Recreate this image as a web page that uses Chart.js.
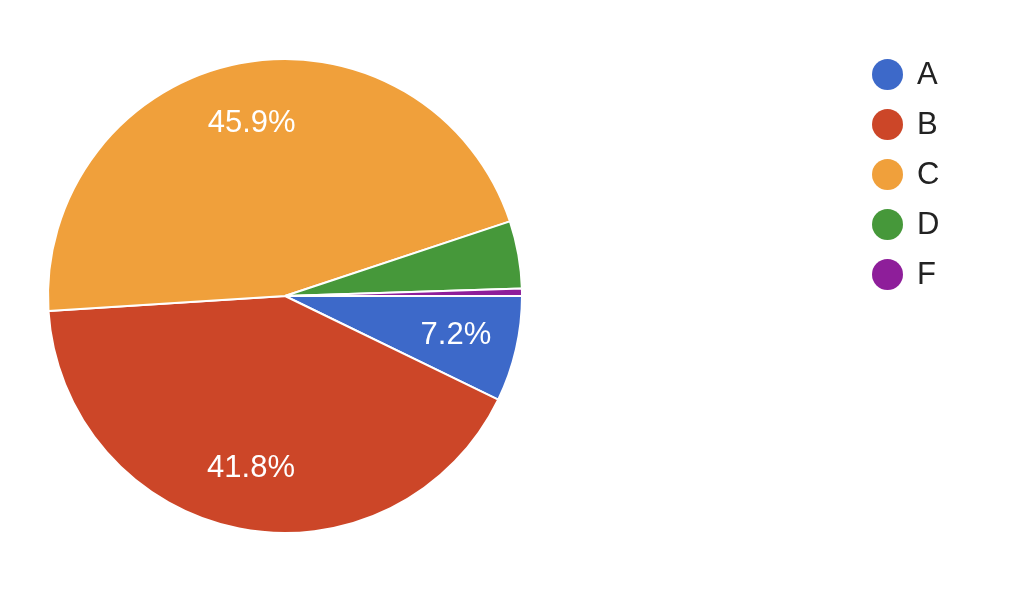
<!DOCTYPE html>
<html>
<head>
<meta charset="utf-8">
<script src="https://cdn.jsdelivr.net/npm/chart.js@4/dist/chart.umd.min.js"></script>
<style>
  body { margin: 0; background: #fff; }
  #wrap { position: relative; width: 1024px; height: 605px; }
  #legend { position: absolute; left: 872px; top: 49px; font-family: "Liberation Sans", Arial, sans-serif; font-size: 31px; color: #222; }
  .item { height: 50px; display: flex; align-items: center; }
  .dot { width: 31px; height: 31px; border-radius: 50%; margin-right: 14px; }
</style>
</head>
<body>
<div id="wrap">
  <canvas id="pie" width="1024" height="605"></canvas>
  <div id="legend"></div>
</div>
<script>
// grades and their share
const labels = ['A', 'B', 'C', 'D', 'F'];
const shares = [7.2, 41.8, 45.9, 4.6, 0.5];
const colors = ['#3d69c9', '#cc4628', '#f0a03b', '#46983a', '#8e1e9a'];

// percent text inside the big slices
const sliceText = {
  id: 'sliceText',
  afterDatasetsDraw(chart) {
    const ctx = chart.ctx;
    const arcs = chart.getDatasetMeta(0).data;
    ctx.save();
    ctx.font = '31px "Liberation Sans", Arial, sans-serif';
    ctx.fillStyle = '#fff';
    ctx.textAlign = 'center';
    ctx.textBaseline = 'middle';
    arcs.forEach((arc, i) => {
      if (shares[i] < 5) return;
      const p = arc.getProps(['x', 'y', 'startAngle', 'endAngle', 'outerRadius'], true);
      const mid = (p.startAngle + p.endAngle) / 2;
      const r = p.outerRadius * 0.74;
      ctx.fillText(shares[i].toFixed(1) + '%', p.x + Math.cos(mid) * r, p.y + Math.sin(mid) * r);
    });
    ctx.restore();
  }
};

new Chart(document.getElementById('pie'), {
  type: 'pie',
  data: {
    labels: labels,
    datasets: [{
      data: shares,
      backgroundColor: colors,
      borderColor: '#fff',
      borderWidth: 2
    }]
  },
  options: {
    responsive: false,
    animation: false,
    rotation: 90,
    layout: { padding: { left: 47, top: 58, right: 501, bottom: 71 } },
    plugins: { legend: { display: false }, tooltip: { enabled: false } }
  },
  plugins: [sliceText]
});

// legend on the right
const legend = document.getElementById('legend');
labels.forEach((l, i) => {
  const row = document.createElement('div');
  row.className = 'item';
  row.innerHTML = '<span class="dot" style="background:' + colors[i] + '"></span>' + l;
  legend.appendChild(row);
});
</script>
</body>
</html>
